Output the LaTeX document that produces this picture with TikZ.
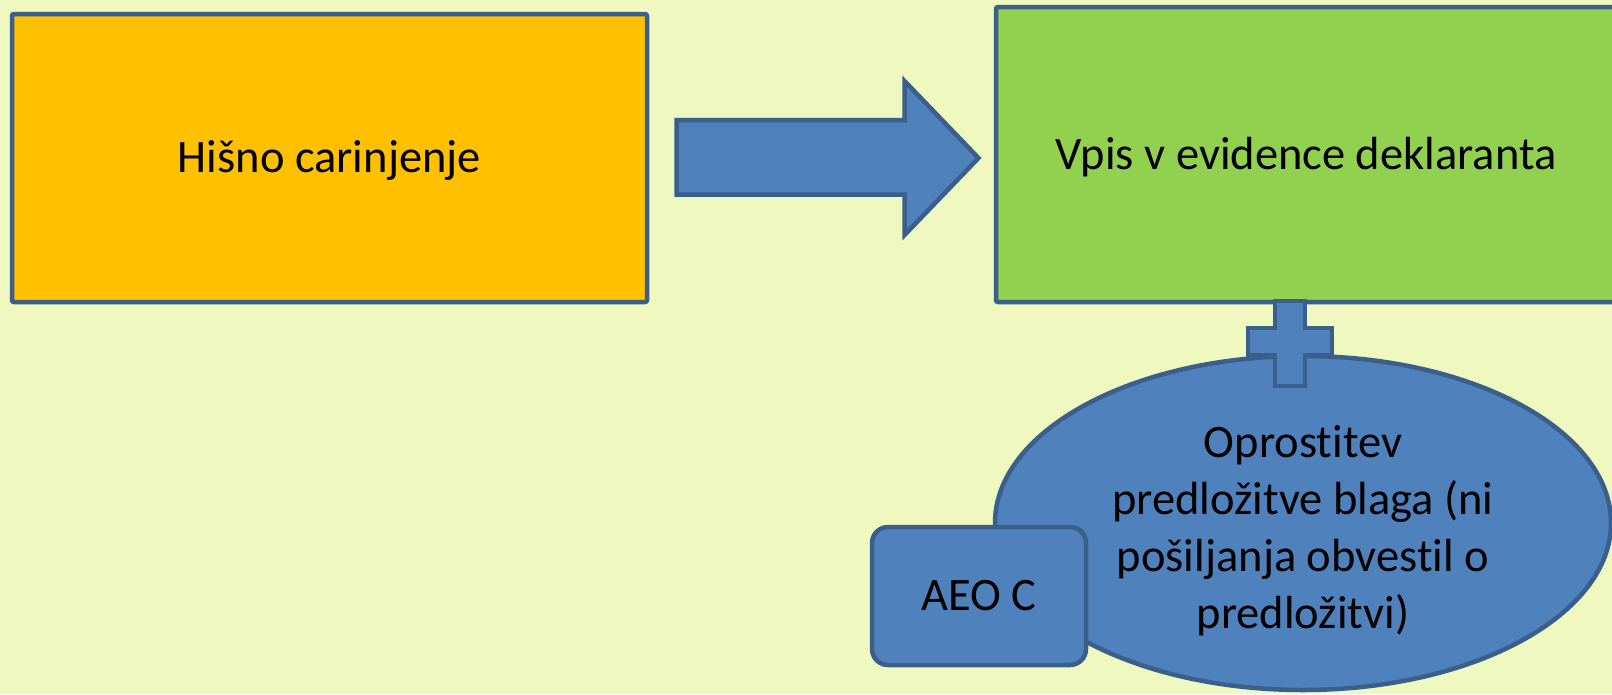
\documentclass[tikz,border=0pt]{standalone}
\usepackage{fontspec}
\setmainfont{Carlito}[Ligatures=NoCommon]
\usetikzlibrary{shapes.geometric}
\definecolor{bgc}{HTML}{EFF8BF}
\definecolor{edgec}{HTML}{3A5F8B}
\definecolor{bluec}{HTML}{4F81BD}
\definecolor{orangec}{HTML}{FFC000}
\definecolor{greenc}{HTML}{92D050}
\tikzset{
  shapeline/.style={draw=edgec, line width=4.5pt, line join=miter},
  boxnode/.style={shapeline, rectangle, rounded corners=2pt, inner sep=0pt,
    text height=29pt, text depth=0pt},
  bigtext/.style={font=\fontsize{46.5}{57}\selectfont}
}
\begin{document}
\begin{tikzpicture}[x=1pt,y=-1pt]
\fill[bgc] (0,0) rectangle (1612,694);
\useasboundingbox (0,0) rectangle (1612,694);

% left box
\node[boxnode, fill=orangec, minimum width=635pt, minimum height=288pt, bigtext]
  (hisno) at (329.5,158) {Hišno carinjenje};

% right box
\node[boxnode, fill=greenc, minimum width=620pt, minimum height=295pt, bigtext]
  (vpis) at (1306,154.5) {Vpis v evidence deklaranta};

% block arrow
\draw[shapeline, fill=bluec]
  (676.5,120) -- (904.5,120) -- (904.5,81) -- (978.5,158) -- (904.5,235)
  -- (904.5,194.5) -- (676.5,194.5) -- cycle;

% ellipse
\node[shapeline, ellipse, fill=bluec, minimum width=616pt, minimum height=334pt, inner sep=0pt]
  (opr) at (1303,523) {};
\node[align=center, bigtext, inner sep=0pt] (oprtext) at (1303,531)
  {Oprostitev\\predložitve blaga (ni\\pošiljanja obvestil o\\predložitvi)};

% plus connector between box and ellipse
\draw[shapeline, fill=bluec]
  (1275,301) -- (1305,301) -- (1305,328) -- (1332,328) -- (1332,355) -- (1305,355)
  -- (1305,386) -- (1275,386) -- (1275,355) -- (1248,355) -- (1248,328) -- (1275,328) -- cycle;

% AEO C box
\node[shapeline, rectangle, rounded corners=16pt, fill=bluec, minimum width=214pt,
  minimum height=138pt, inner sep=0pt, bigtext, text height=29pt, text depth=0pt]
  (aeo) at (979,596) {AEO C};
\end{tikzpicture}
\end{document}
